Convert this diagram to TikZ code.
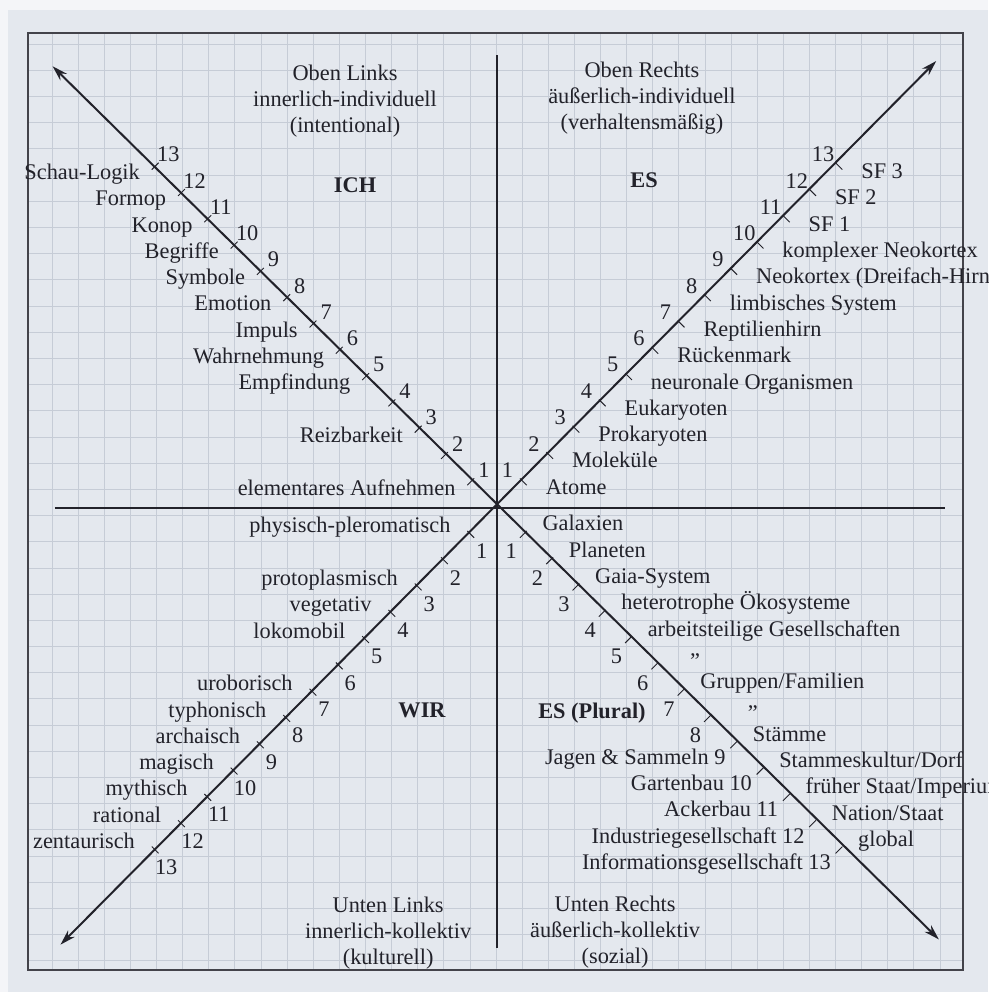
\documentclass[tikz,border=0pt]{standalone}
\usepackage{fontspec}
\setmainfont{Liberation Serif}
\usetikzlibrary{arrows.meta, positioning, calc}
\definecolor{paper}{RGB}{228,232,238}
\definecolor{margin}{RGB}{244,245,248}
\definecolor{gridline}{RGB}{198,204,214}
\definecolor{ink}{RGB}{34,34,42}

\tikzset{
  axis/.style={ink, line width=1.3pt},
  tipped/.style={axis, {Stealth[length=10pt, width=6pt]}-{Stealth[length=10pt, width=6pt]}},
  tickmark/.style={ink, line width=0.6pt},
  num/.style={inner sep=0pt},
  leftlabel/.style={anchor=mid east, inner sep=0pt},
  rightlabel/.style={anchor=mid west, inner sep=0pt},
  heading/.style={align=center, inner sep=0pt},
}

\begin{document}
\begin{tikzpicture}[x=0.6cm, y=0.6cm, font=\fontsize{14.5}{17}\selectfont, every node/.append style={text=ink}]
    % Page
    \useasboundingbox (-18.90,-18.40) rectangle (18.67,19.32);
    \clip (-18.90,-18.40) rectangle (18.67,19.32);
    \fill[margin] (-18.90,-18.40) rectangle (18.67,19.32);
    \fill[paper] (-18.59,-18.40) rectangle (18.67,18.94);

    % Grid
    \foreach \k in {0,...,34}
        \draw[gridline, line width=0.5pt] ({-16.92+\k*0.993},-17.57) -- ({-16.92+\k*0.993},18.06);
    \foreach \k in {-1,...,34}
        \draw[gridline, line width=0.5pt] (-17.83,{16.65-\k*0.996}) -- (17.72,{16.65-\k*0.996});

    % Frame
    \draw[ink!85, line width=1pt] (-17.83,-17.57) rectangle (17.72,18.06);

    % Axes
    \coordinate (O) at (0,0);
    \coordinate (top) at (0,17.22);
    \coordinate (bottom) at (0,-16.73);
    \coordinate (left) at (-16.81,0);
    \coordinate (right) at (17.03,0);
    \coordinate (nw) at (-16.9,16.8);
    \coordinate (ne) at (16.7,17.0);
    \coordinate (sw) at (-16.6,-16.6);
    \coordinate (se) at (16.8,-16.4);
    \draw[axis] (top) -- (bottom);
    \draw[axis] (left) -- (right);
    \draw[tipped] (nw) -- (se);
    \draw[tipped] (sw) -- (ne);

    % Ticks and numbers
    \foreach \k in {1,...,13} {
        \coordinate (nw-\k) at (-\k,\k);
        \coordinate (ne-\k) at (\k,\k);
        \coordinate (se-\k) at (\k,-\k);
        \coordinate (sw-\k) at (-\k,-\k);
        \draw[tickmark] ($(nw-\k)+(-0.13,-0.13)$) -- ($(nw-\k)+(0.13,0.13)$);
        \draw[tickmark] ($(se-\k)+(-0.13,-0.13)$) -- ($(se-\k)+(0.13,0.13)$);
        \draw[tickmark] ($(ne-\k)+(-0.13,0.13)$) -- ($(ne-\k)+(0.13,-0.13)$);
        \draw[tickmark] ($(sw-\k)+(-0.13,0.13)$) -- ($(sw-\k)+(0.13,-0.13)$);
        \node[num] (nw-n\k) at ($(nw-\k)+(0.5,0.45)$) {\k};
        \node[num] (ne-n\k) at ($(ne-\k)+(-0.6,0.45)$) {\k};
        \node[num] (sw-n\k) at ($(sw-\k)+(0.42,-0.65)$) {\k};
    }
    \foreach \k in {1,...,8}
        \node[num] (se-n\k) at ($(se-\k)+(-0.46,-0.65)$) {\k};

    % Oben Links
    \node[heading] (ol) at (-5.78,15.47) {Oben Links\\innerlich-individuell\\(intentional)};
    \node (ich) at (-5.4,12.28) {\textbf{ICH}};
    \foreach \k/\txt in {13/Schau-Logik, 12/Formop, 11/Konop, 10/Begriffe, 9/Symbole,
                         8/Emotion, 7/Impuls, 6/Wahrnehmung, 5/Empfindung,
                         3/Reizbarkeit, 1/elementares Aufnehmen}
        \node[leftlabel] (nw-l\k) at ($(nw-\k)+(-0.57,-0.37)$) {\txt};

    % Oben Rechts
    \node[heading] (or) at (5.51,15.59) {Oben Rechts\\äußerlich-individuell\\(verhaltensmäßig)};
    \node (es) at (5.59,12.47) {\textbf{ES}};
    \foreach \k/\txt in {1/Atome, 2/Moleküle, 3/Prokaryoten, 4/Eukaryoten,
                         5/neuronale Organismen, 6/Rückenmark, 7/Reptilienhirn,
                         8/limbisches System, 9/Neokortex (Dreifach-Hirn),
                         10/komplexer Neokortex, 11/SF 1, 12/SF 2, 13/SF 3}
        \node[rightlabel] (ne-l\k) at ($(ne-\k)+(0.84,-0.34)$) {\txt};

    % Unten Links
    \node[heading] (ul) at (-4.14,-16.16) {Unten Links\\innerlich-kollektiv\\(kulturell)};
    \node (wir) at (-2.85,-7.68) {\textbf{WIR}};
    \foreach \k/\txt in {1/physisch-pleromatisch, 3/protoplasmisch, 4/vegetativ,
                         5/lokomobil, 7/uroborisch, 8/typhonisch, 9/archaisch,
                         10/magisch, 11/mythisch, 12/rational, 13/zentaurisch}
        \node[leftlabel] (sw-l\k) at ($(sw-\k)+(-0.76,0.19)$) {\txt};

    % Unten Rechts
    \node[heading] (ur) at (4.49,-16.12) {Unten Rechts\\äußerlich-kollektiv\\(sozial)};
    \node (esp) at (3.61,-7.79) {\textbf{ES (Plural)}};
    \foreach \k/\txt in {1/Galaxien, 2/Planeten, 3/Gaia-System, 4/heterotrophe Ökosysteme,
                         5/arbeitsteilige Gesellschaften, 7/{Gruppen/Familien}, 9/Stämme,
                         10/{Stammeskultur/Dorf}, 11/{früher Staat/Imperium},
                         12/{Nation/Staat}, 13/global}
        \node[rightlabel] (se-l\k) at ($(se-\k)+(0.72,0.27)$) {\txt};
    \node[num] (se-d6) at ($(se-6)+(1.53,0.19)$) {”};
    \node[num] (se-d8) at ($(se-8)+(1.73,0.19)$) {”};
    \foreach \k/\txt in {9/Jagen \& Sammeln, 10/Gartenbau, 11/Ackerbau,
                         12/Industriegesellschaft, 13/Informationsgesellschaft}
        \node[leftlabel] (se-n\k) at ($(se-\k)+(-0.3,-0.6)$) {\txt\ \k};
\end{tikzpicture}
\end{document}
